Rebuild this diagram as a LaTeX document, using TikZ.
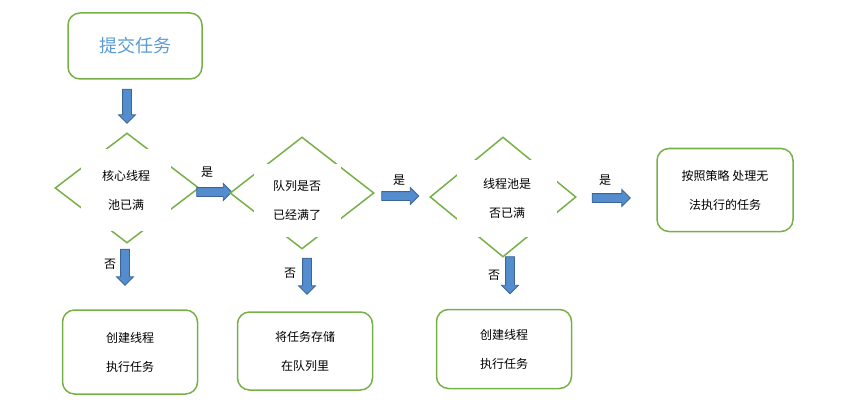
\documentclass[tikz,border=0pt]{standalone}
\usepackage{fontspec}
\setmainfont{Noto Sans CJK SC}
\usetikzlibrary{shapes.geometric,shapes.arrows}

\definecolor{boxgreen}{RGB}{119,176,71}
\definecolor{arrowfill}{RGB}{84,141,205}
\definecolor{arrowline}{RGB}{60,100,150}
\definecolor{titleblue}{RGB}{91,155,213}

\tikzset{
  flowbox/.style={draw=boxgreen, line width=1.5pt, rounded corners=12pt,
    align=center, inner sep=0pt, font=\fontsize{12}{29}\selectfont},
  decision/.style={diamond, draw=boxgreen, line width=1.5pt, inner sep=0pt},
  cover/.style={fill=white, inner sep=0pt, align=center,
    font=\fontsize{12}{29}\selectfont},
  blockarrow/.style={single arrow, draw=arrowline, fill=arrowfill, line width=0.8pt,
    inner xsep=0pt, inner ysep=4pt, single arrow head extend=4pt,
    minimum height=#1},
  yesno/.style={font=\fontsize{12}{14}\selectfont, inner sep=0pt}
}

\begin{document}
\begin{tikzpicture}[x=1pt,y=-1pt]
  \useasboundingbox (0,0) rectangle (843,417);

  \node[flowbox, minimum width=134, minimum height=66, text=titleblue,
        font=\fontsize{18}{20}\selectfont] (submit) at (135,46) {提交任务};
  \node[blockarrow=34, rotate=-90] (arrow0) at (127,104) {};

  % first check
  \node[decision, minimum width=144, minimum height=110] (core) at (127,188) {};
  \node[cover, minimum width=90, minimum height=82] (coretext) at (126,190) {核心线程\\池已满};
  \node[blockarrow=35] (arrow1) at (212,192) {};
  \node[yesno] (yes1) at (207,172) {是};

  % second check
  \node[decision, minimum width=144, minimum height=112] (queue) at (302,193) {};
  \node[cover, minimum width=87, minimum height=73] (queuetext) at (297,200) {队列是否\\已经满了};
  \node[blockarrow=37] (arrow2) at (398,196) {};
  \node[yesno] (yes2) at (399,180) {是};

  % third check
  \node[decision, minimum width=146, minimum height=120] (pool) at (503,197) {};
  \node[cover, minimum width=100, minimum height=77] (pooltext) at (507,198) {线程池是\\否已满};
  \node[blockarrow=38] (arrow3) at (609,198) {};
  \node[yesno] (yes3) at (605,180) {是};

  \node[flowbox, minimum width=136, minimum height=83] (reject) at (725,190) {按照策略 处理无\\法执行的任务};

  % the three "no" branches
  \node[blockarrow=36, rotate=-90] (arrow4) at (125,265) {};
  \node[yesno] (no1) at (110,264) {否};
  \node[flowbox, minimum width=135, minimum height=84] (runcore) at (130,352) {创建线程\\执行任务};

  \node[blockarrow=36, rotate=-90] (arrow5) at (307,274) {};
  \node[yesno] (no2) at (290,273) {否};
  \node[flowbox, minimum width=135, minimum height=78] (enqueue) at (305,351) {将任务存储\\在队列里};

  \node[blockarrow=37, rotate=-90] (arrow6) at (510,273) {};
  \node[yesno] (no3) at (494,275) {否};
  \node[flowbox, minimum width=135, minimum height=79] (runextra) at (504,349) {创建线程\\执行任务};
\end{tikzpicture}
\end{document}
